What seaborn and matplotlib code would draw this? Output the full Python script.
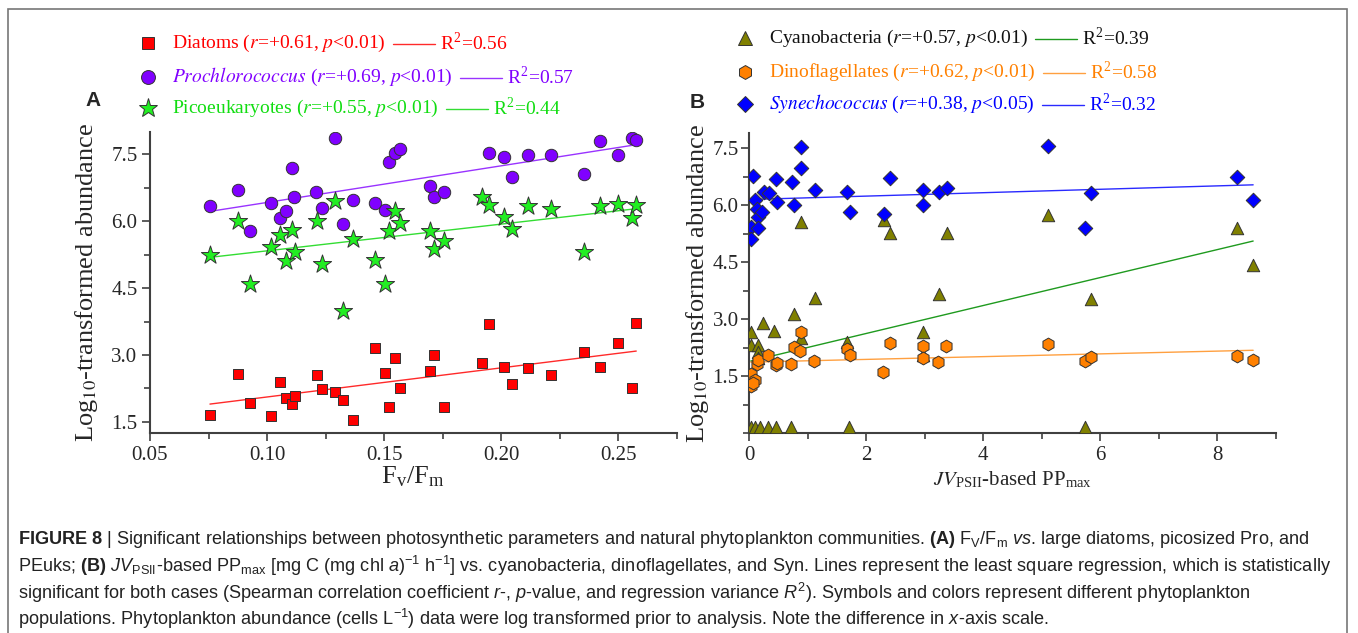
import numpy as np
import pandas as pd
import matplotlib
matplotlib.use("Agg")
import matplotlib.pyplot as plt
import seaborn as sns
from matplotlib.lines import Line2D
from matplotlib.patches import Rectangle
from matplotlib.ticker import MultipleLocator, FormatStrFormatter

# ---- data ----
# panel A: Fv/Fm vs log10 abundance
FVFM_DIA = [0.0756, 0.0875, 0.0929, 0.1017, 0.1057, 0.1079, 0.1108, 0.1117, 0.1211, 0.1235, 0.1290,
            0.1323, 0.1366, 0.1461, 0.1502, 0.1521, 0.1545, 0.1566, 0.1697, 0.1714, 0.1754, 0.1918,
            0.1947, 0.2010, 0.2045, 0.2113, 0.2210, 0.2351, 0.2422, 0.2500, 0.2559, 0.2576]
LOG_DIA = [1.66, 2.58, 1.92, 1.63, 2.39, 2.03, 1.90, 2.08, 2.54, 2.24, 2.16,
           2.00, 1.54, 3.15, 2.59, 1.83, 2.94, 2.26, 2.63, 3.00, 1.83, 2.82,
           3.69, 2.73, 2.35, 2.71, 2.55, 3.06, 2.73, 3.26, 2.25, 3.72]
FVFM_PRO = [0.0756, 0.0874, 0.0929, 0.1017, 0.1057, 0.1079, 0.1108, 0.1115, 0.1210, 0.1235, 0.1290,
            0.1323, 0.1366, 0.1461, 0.1502, 0.1519, 0.1545, 0.1566, 0.1697, 0.1714, 0.1754, 0.1947,
            0.2010, 0.2045, 0.2113, 0.2210, 0.2351, 0.2422, 0.2500, 0.2559, 0.2576]
LOG_PRO = [6.33, 6.70, 5.79, 6.40, 6.07, 6.22, 7.19, 6.54, 6.66, 6.29, 7.86,
           5.93, 6.48, 6.41, 6.25, 7.32, 7.53, 7.62, 6.78, 6.55, 6.66, 7.52,
           7.45, 6.98, 7.49, 7.49, 7.06, 7.79, 7.49, 7.86, 7.81]
FVFM_PEUK = [0.0756, 0.0875, 0.0929, 0.1017, 0.1056, 0.1079, 0.1108, 0.1117, 0.1211, 0.1235, 0.1290,
             0.1323, 0.1366, 0.1461, 0.1502, 0.1521, 0.1545, 0.1566, 0.1697, 0.1714, 0.1754, 0.1918,
             0.1947, 0.2010, 0.2045, 0.2113, 0.2210, 0.2351, 0.2422, 0.2500, 0.2559, 0.2576]
LOG_PEUK = [5.25, 6.00, 4.59, 5.41, 5.68, 5.11, 5.81, 5.32, 6.00, 5.03, 6.45,
            3.99, 5.60, 5.14, 4.59, 5.77, 6.22, 5.97, 5.77, 5.38, 5.55, 6.55,
            6.37, 6.10, 5.83, 6.33, 6.28, 5.32, 6.34, 6.39, 6.07, 6.37]

# panel B: JV_PSII-based PPmax vs log10 abundance
PP_CYA = [0.03, 0.03, 0.16, 0.16, 0.16, 0.24, 0.43, 0.77, 0.88, 0.88, 1.13, 1.68, 2.30, 2.41,
          2.97, 2.97, 3.24, 3.38, 5.10, 5.84, 8.33, 8.61,
          0.03, 0.10, 0.19, 0.32, 0.46, 0.72, 1.70, 5.73]
LOG_CYA = [2.66, 2.32, 2.32, 2.14, 1.97, 2.89, 2.68, 3.13, 2.49, 5.56, 3.56, 2.40, 5.62, 5.26,
           2.66, 2.05, 3.66, 5.27, 5.74, 3.54, 5.41, 4.43,
           0.15, 0.15, 0.15, 0.15, 0.15, 0.15, 0.15, 0.15]
PP_DINO = [0.03, 0.03, 0.10, 0.07, 0.13, 0.16, 0.32, 0.46, 0.47, 0.72, 0.76, 0.87, 0.88, 1.11,
           1.67, 1.72, 2.29, 2.40, 2.97, 2.97, 3.22, 3.37, 5.10, 5.73, 5.84, 8.33, 8.61]
LOG_DINO = [1.55, 1.24, 1.39, 1.31, 1.83, 1.92, 2.05, 1.79, 1.85, 1.83, 2.27, 2.17, 2.65, 1.90,
            2.20, 2.05, 1.60, 2.38, 2.29, 1.97, 1.86, 2.29, 2.34, 1.89, 1.99, 2.03, 1.92]
PP_SYN = [0.06, 0.88, 0.88, 0.03, 0.03, 0.10, 0.13, 0.16, 0.16, 0.22, 0.26, 0.34, 0.46, 0.47,
          0.73, 0.77, 1.13, 1.68, 1.73, 2.30, 2.41, 2.97, 2.98, 3.24, 3.38, 5.10, 5.84, 5.73,
          8.33, 8.61]
LOG_SYN = [6.76, 7.53, 6.97, 5.43, 5.10, 6.13, 5.91, 5.69, 5.39, 5.82, 6.35, 6.32, 6.70, 6.09,
           6.60, 6.00, 6.41, 6.34, 5.81, 5.76, 6.72, 6.41, 6.00, 6.35, 6.46, 7.55, 6.31, 5.41,
           6.74, 6.13]

LEGEND_A = ["Diatoms ($r$=+0.61, $p$<0.01)",
            "$Prochlorococcus$ ($r$=+0.69, $p$<0.01)",
            "Picoeukaryotes ($r$=+0.55, $p$<0.01)"]
R2_A = ["0.56", "0.57", "0.44"]
LEGEND_B = ["Cyanobacteria ($r$=+0.57, $p$<0.01)",
            "Dinoflagellates ($r$=+0.62, $p$<0.01)",
            "$Synechococcus$ ($r$=+0.38, $p$<0.05)"]
R2_B = ["0.39", "0.58", "0.32"]

CAPTION = [
    r"$\mathbf{FIGURE\ 8}$ | Significant relationships between photosynthetic parameters and natural phytoplankton "
    r"communities. $\mathbf{(A)}$ F$_{\mathrm{V}}$/F$_{\mathrm{m}}$ $vs$. large diatoms, picosized Pro, and",
    r"PEuks; $\mathbf{(B)}$ $JV_{\mathrm{PSII}}$-based PP$_{\mathrm{max}}$ [mg C (mg chl $a$)$^{-1}$ h$^{-1}$] vs. "
    r"cyanobacteria, dinoflagellates, and Syn. Lines represent the least square regression, which is statistically",
    r"significant for both cases (Spearman correlation coefficient $r$-, $p$-value, and regression variance "
    r"$R^{2}$). Symbols and colors represent different phytoplankton",
    r"populations. Phytoplankton abundance (cells L$^{-1}$) data were log transformed prior to analysis. "
    r"Note the difference in $x$-axis scale.",
]

# ---- style ----
sns.set_style("white")
plt.rcParams["font.family"] = ["Liberation Serif", "DejaVu Serif"]
plt.rcParams["mathtext.fontset"] = "custom"
plt.rcParams["mathtext.rm"] = "Liberation Sans"
plt.rcParams["mathtext.it"] = "Liberation Sans:italic"
plt.rcParams["mathtext.bf"] = "Liberation Sans:bold"

W, H = 1358, 633
fig = plt.figure(figsize=(W / 100, H / 100), dpi=100)
fx = lambda px: px / W
fy = lambda py: 1 - py / H

EDGE = "#333333"
SPINE = "#404040"

def style_axes(ax):
    for s in ["top", "right"]:
        ax.spines[s].set_visible(False)
    for s in ["left", "bottom"]:
        ax.spines[s].set_color(SPINE); ax.spines[s].set_linewidth(1.5)
    ax.tick_params(which="both", direction="out", bottom=True, left=True, color=SPINE,
                   width=1.2, labelsize=15, pad=3)
    ax.tick_params(which="major", length=6)
    ax.tick_params(which="minor", length=4)
    ax.set_facecolor("white")

def series(ax, x, y, marker, s, fill, line):
    sns.regplot(x=np.array(x), y=np.array(y), ax=ax, scatter=False, ci=None, color=line,
                line_kws=dict(lw=1.0, zorder=2))
    sns.scatterplot(x=x, y=y, ax=ax, marker=marker, s=s, color=fill, edgecolor=EDGE,
                    linewidth=0.7, zorder=3, legend=False)

ylab = "Log$_{10}$-transformed abundance"

# ---- panel A ----
axA = fig.add_axes([fx(150), fy(433), fx(677) - fx(150), fy(132) - fy(433)])
series(axA, FVFM_DIA, LOG_DIA, "s", 60, "#ff0000", "#ff2a2a")
series(axA, FVFM_PRO, LOG_PRO, "o", 80, "#8000ff", "#9933ff")
series(axA, FVFM_PEUK, LOG_PEUK, "*", 190, "#22ee22", "#33dd33")
axA.set_xlim(0.05, 0.275); axA.set_ylim(1.25, 8.0)
axA.set_xticks([0.05, 0.10, 0.15, 0.20, 0.25]); axA.xaxis.set_minor_locator(MultipleLocator(0.025))
axA.set_yticks([1.5, 3.0, 4.5, 6.0, 7.5]); axA.yaxis.set_minor_locator(MultipleLocator(0.75))
axA.xaxis.set_major_formatter(FormatStrFormatter("%.2f"))
axA.yaxis.set_major_formatter(FormatStrFormatter("%.1f"))
style_axes(axA)
axA.set_xlabel("F$_\\mathregular{v}$/F$_\\mathregular{m}$", fontsize=19, math_fontfamily="stix", labelpad=0)
axA.set_ylabel(ylab, fontsize=19, math_fontfamily="stix")
axA.yaxis.set_label_coords(-0.095, 0.5)

# ---- panel B ----
axB = fig.add_axes([fx(749), fy(433), fx(1276) - fx(749), fy(133) - fy(433)])
series(axB, PP_CYA, LOG_CYA, "^", 80, "#808000", "#1f9a1f")
series(axB, PP_DINO, LOG_DINO, "h", 85, "#ff8000", "#ffa040")
series(axB, PP_SYN, LOG_SYN, "D", 55, "#0000ff", "#2a2aff")
axB.set_xlim(0, 9); axB.set_ylim(0, 7.9)
axB.set_xticks([0, 2, 4, 6, 8]); axB.xaxis.set_minor_locator(MultipleLocator(1))
axB.set_yticks([1.5, 3.0, 4.5, 6.0, 7.5]); axB.yaxis.set_minor_locator(MultipleLocator(0.75))
axB.xaxis.set_major_formatter(FormatStrFormatter("%d"))
axB.yaxis.set_major_formatter(FormatStrFormatter("%.1f"))
style_axes(axB)
axB.tick_params(axis="y", pad=1.5)
axB.set_xlabel("$\\mathit{JV}_{\\mathregular{PSII}}$-based PP$_{\\mathregular{max}}$", fontsize=15,
               math_fontfamily="stix", labelpad=4)
axB.set_ylabel(ylab, fontsize=19, math_fontfamily="stix")
axB.yaxis.set_label_coords(-0.072, 0.5)

# ---- legends drawn as figure text ----
fig.canvas.draw()
rend = fig.canvas.get_renderer()

def legend_row(mx, tx, py, marker, ms, fill, text, tcolor, lcolor, r2):
    fig.add_artist(Line2D([fx(mx)], [fy(py)], transform=fig.transFigure, marker=marker, ms=ms,
                          mfc=fill, mec=EDGE, mew=0.7, ls="none"))
    t = fig.text(fx(tx), fy(py), text, color=tcolor, fontsize=14, va="center", ha="left",
                 math_fontfamily="stix")
    ext = t.get_window_extent(rend)
    x0 = ext.x1 + 7
    fig.add_artist(Line2D([x0 / W, (x0 + 42) / W], [fy(py + 1), fy(py + 1)], transform=fig.transFigure,
                          color=lcolor, lw=1.0))
    fig.text((x0 + 47) / W, fy(py), "R$^\\mathregular{2}$=" + r2, color=tcolor, fontsize=14,
             va="center", ha="left", math_fontfamily="stix")

legend_row(148, 172, 43, "s", 8.5, "#ff0000", LEGEND_A[0], "#ff0000", "#ff2a2a", R2_A[0])
legend_row(148, 172, 77, "o", 10, "#8000ff", LEGEND_A[1], "#8000ff", "#9933ff", R2_A[1])
legend_row(148, 172, 108, "*", 14, "#22ee22", LEGEND_A[2], "#11dd11", "#33dd33", R2_A[2])
legend_row(745, 769, 38, "^", 9.5, "#808000", LEGEND_B[0], "#111111", "#1f9a1f", R2_B[0])
legend_row(745, 769, 72, "h", 10, "#ff8000", LEGEND_B[1], "#ff8000", "#ffa040", R2_B[1])
legend_row(745, 769, 104, "D", 8, "#0000ff", LEGEND_B[2], "#0000ff", "#2a2aff", R2_B[2])

fig.text(fx(93), fy(101), "A", fontsize=15, fontweight="bold", family="Liberation Sans",
         ha="center", va="center")
fig.text(fx(697), fy(103), "B", fontsize=15, fontweight="bold", family="Liberation Sans",
         ha="center", va="center")

# ---- caption ----
for i, line in enumerate(CAPTION):
    fig.text(fx(18), fy(540 + 26.3 * i), line, fontsize=13.1, family="Liberation Sans",
             color="#222222", ha="left", va="center")

fig.add_artist(Rectangle((fx(8), -0.05), fx(1347) - fx(8), fy(9) + 0.05, transform=fig.transFigure,
                         fill=False, ec="#777777", lw=1.2))

fig.savefig("out.png", dpi=100)
